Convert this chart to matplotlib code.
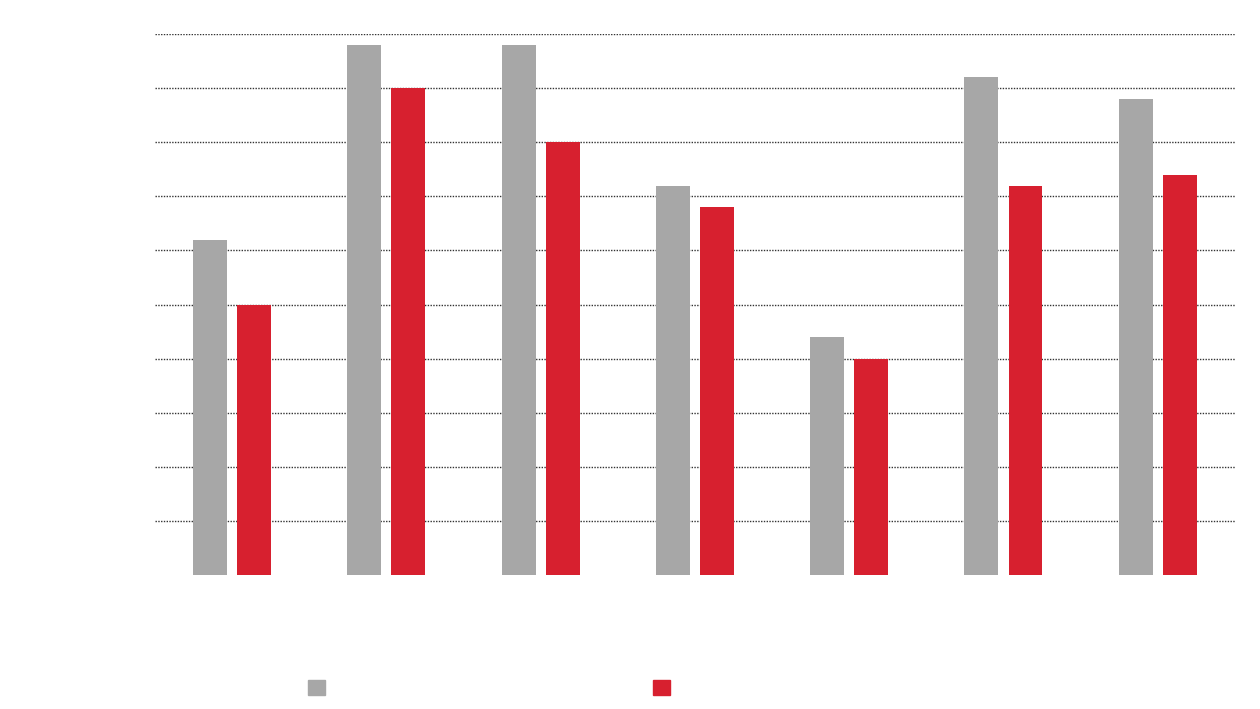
import numpy as np
import matplotlib
matplotlib.use('Agg')
import matplotlib.pyplot as plt
from matplotlib.patches import Patch

# values read in grid units (0-10)
groups = ['1', '2', '3', '4', '5', '6', '7']
grey_vals = [6.2, 9.8, 9.8, 7.2, 4.4, 9.2, 8.8]
red_vals = [5.0, 9.0, 8.0, 6.8, 4.0, 7.2, 7.4]
series_names = ['', '']

grey = '#a7a7a7'
red = '#d7202f'

fig = plt.figure(figsize=(12.6, 7.09), dpi=100)
ax = fig.add_axes([0.123, 0.189, 0.857, 0.763])

x = np.arange(len(groups))
w = 0.22
off = 0.143
ax.bar(x - off, grey_vals, width=w, color=grey, zorder=3)
ax.bar(x + off, red_vals, width=w, color=red, zorder=3)

# dotted grid lines
for yv in range(1, 11):
    ax.axhline(yv, color='#333333', lw=1.0, ls=(0, (1, 1)), zorder=1)

ax.set_xlim(-0.5, len(groups) - 0.5)
ax.set_ylim(0, 10)
ax.set_xticks([])
ax.set_yticks([])
for s in ax.spines.values():
    s.set_visible(False)

handles = [Patch(color=grey), Patch(color=red)]
fig.legend(handles, series_names, loc='center', bbox_to_anchor=(0.388, 0.029),
           ncol=2, frameon=False, fontsize=12.24, handlelength=1.0,
           handleheight=1.0, handletextpad=0, columnspacing=19.3, borderpad=0)

plt.savefig('out.png', dpi=100)
